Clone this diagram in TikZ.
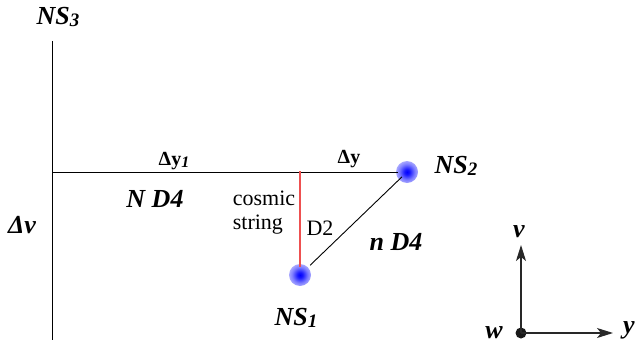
\documentclass[tikz,border=0pt]{standalone}
\usepackage{fontspec}
\setmainfont{Liberation Serif}
\usetikzlibrary{arrows.meta}
\pgfdeclareradialshading{glow}{\pgfpoint{0bp}{0bp}}{color(0bp)=(blue); color(6bp)=(blue!90); color(18bp)=(blue!50); color(34bp)=(blue!15); color(50bp)=(white)}
\definecolor{strred}{RGB}{238,80,80}
\definecolor{axgray}{RGB}{40,40,40}
\newcommand{\dg}[1]{\raisebox{-1.5pt}{\fontsize{19}{19}\selectfont #1}}
\begin{document}
\begin{tikzpicture}[x=1pt,y=-1pt,
  lbl/.style={inner sep=0pt},
  bi/.style={lbl,font=\bfseries\itshape\fontsize{26}{26}\selectfont},
  rm/.style={lbl,font=\fontsize{22}{24}\selectfont},
  bd/.style={lbl,font=\bfseries\fontsize{20}{20}\selectfont},
  ball/.style={circle,shading=glow,minimum size=22pt,inner sep=0pt,draw=none},
  thin line/.style={line width=0.9pt,black},
  axis/.style={line width=1.2pt,axgray,-{Stealth[length=16pt,width=10pt,inset=4pt]}}]
\useasboundingbox (0,0) rectangle (637,345);
% coordinates
\coordinate (vtop) at (52,41);
\coordinate (vbot) at (52,340);
\coordinate (hleft) at (52,172);
\coordinate (strtop) at (300,171);
\coordinate (vtip) at (521,245);
\coordinate (ytip) at (613,333);
% balls
\node[ball] (ns2) at (407,172) {};
\node[ball] (ns1) at (300,275) {};
% lines
\draw[thin line,line width=1pt] (vtop) -- (vbot);
\draw[thin line,shorten >=9pt] (hleft) -- (ns2.center);
\draw[line width=2pt,strred,shorten >=8pt] (strtop) -- (ns1.center);
\draw[thin line,shorten <=14pt,shorten >=7pt] (ns1.center) -- (ns2.center);
% axes
\node[circle,fill=black!90,minimum size=11pt,inner sep=0pt] (o) at (521,333) {};
\draw[axis] (o.center) -- (vtip);
\draw[axis] (o.center) -- (ytip);
% labels
\node[bi] (lns3) at (58,17) {NS\dg{3}};
\node[bi] (lns2) at (456,166) {NS\dg{2}};
\node[bi] (lns1) at (296,318) {NS\dg{1}};
\node[bi] (lnd4) at (155,199) {N D4};
\node[bi] (lnd4b) at (396,242) {n D4};
\node[bi] (ldv) at (22,225) {Δv};
\node[bi] (lv) at (519,232) {v};
\node[bi] (lw) at (494,333) {w};
\node[bi] (ly) at (629,330) {y};
\node[bd] (ldy1) at (174,161) {Δy\raisebox{-2pt}{\itshape\fontsize{16}{16}\selectfont 1}};
\node[bd] (ldy) at (349,159) {Δy};
\node[rm,align=left] (lcs) at (264,213) {cosmic\\string};
\node[rm] (ld2) at (320,228) {D2};
\end{tikzpicture}
\end{document}
